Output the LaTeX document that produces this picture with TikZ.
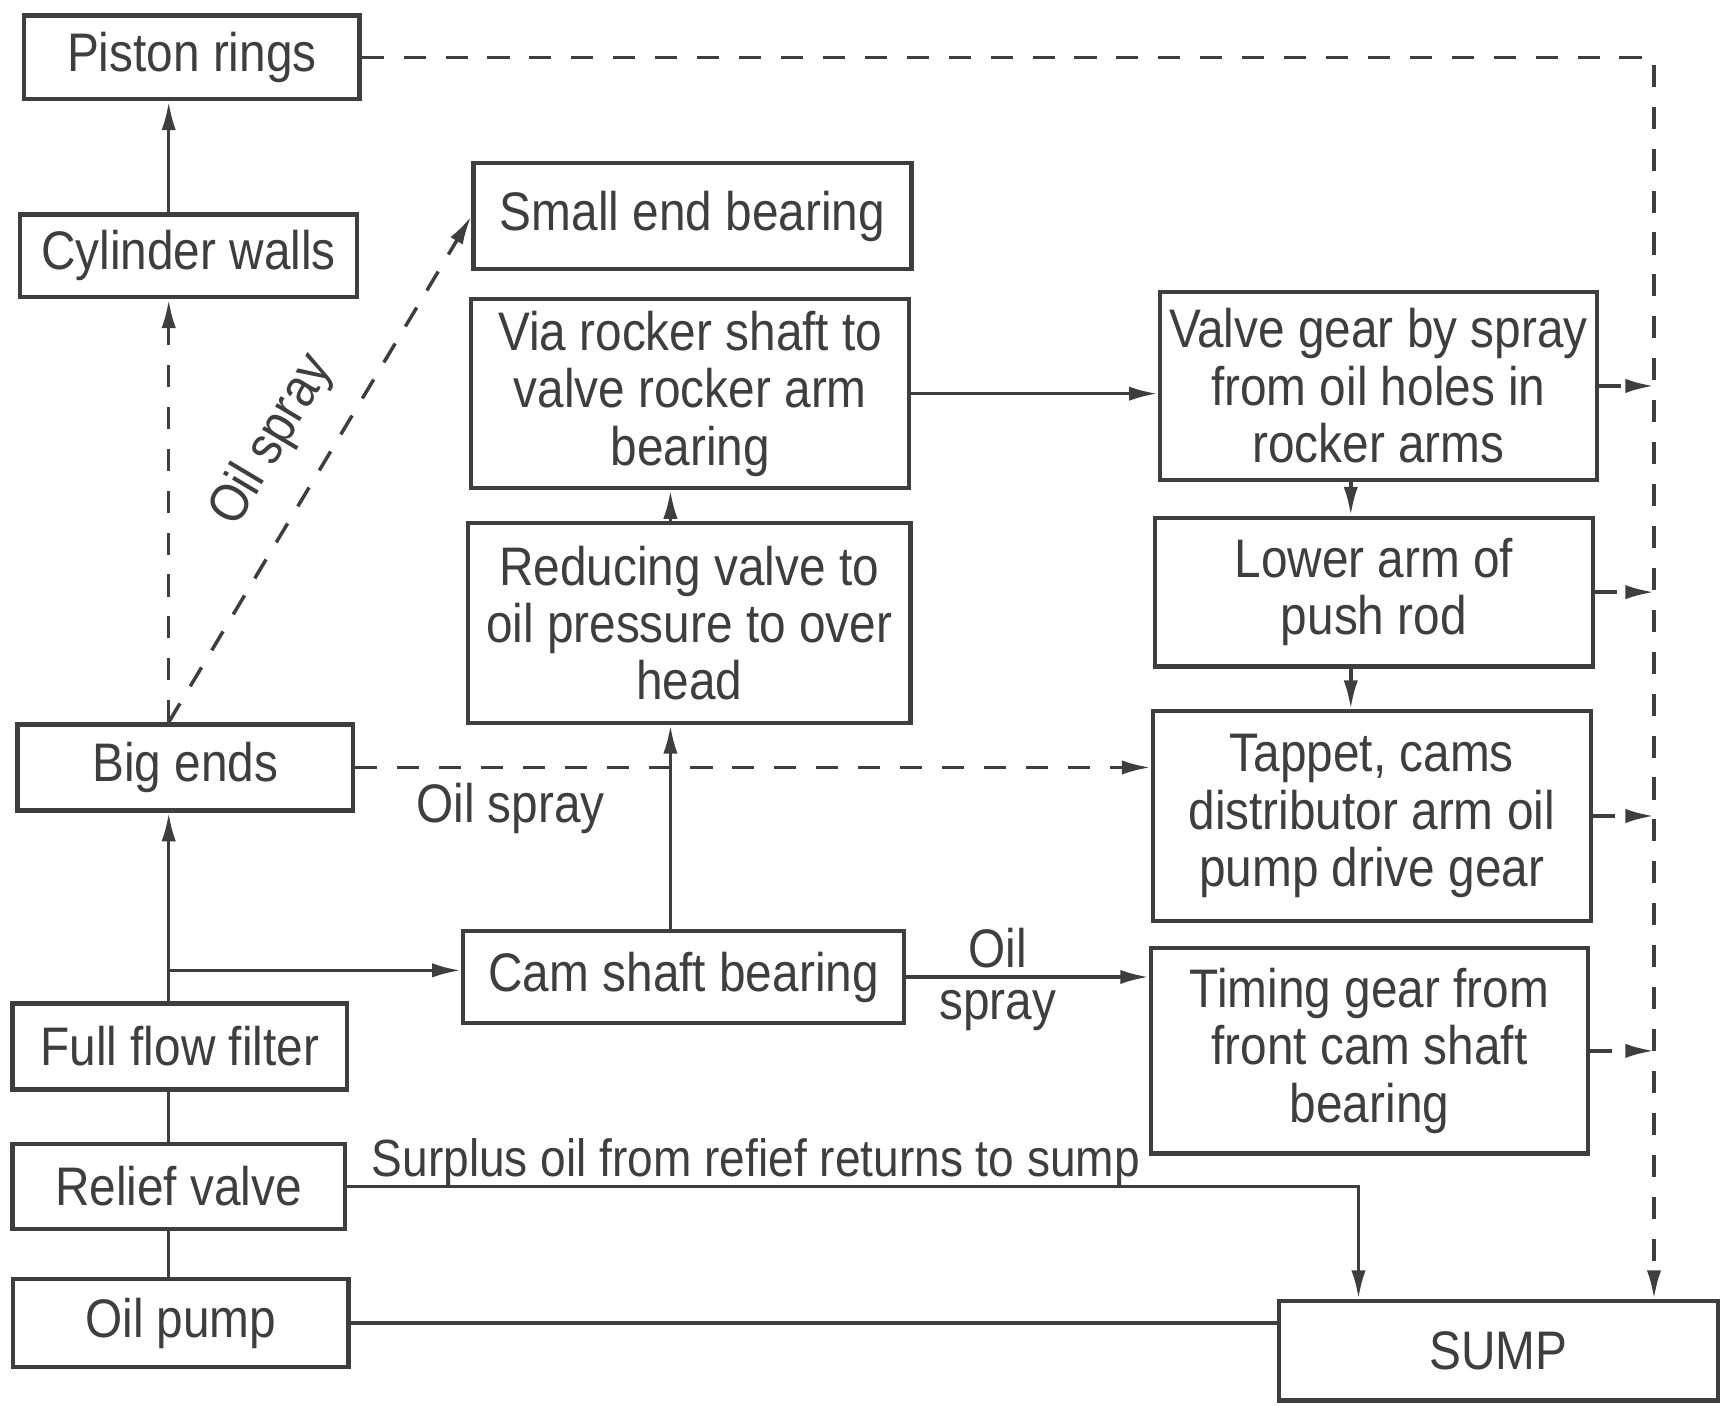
\documentclass[tikz,border=0pt]{standalone}
\usepackage{fontspec}
\setmainfont{Liberation Sans}[FakeStretch=0.88]
\usetikzlibrary{arrows.meta}
\definecolor{ink}{RGB}{62,62,62}
\begin{document}
\begin{tikzpicture}[x=0.01cm, y=-0.01cm,
  font=\fontsize{14}{14.8}\selectfont,
  box/.style={draw=ink, line width=1.1pt, align=center, inner sep=0pt, text=ink},
  ln/.style={draw=ink, line width=0.9pt},
  arr/.style={ln, -{Latex[length=2.6mm,width=1.3mm]}},
  dsh/.style={arr, dash pattern=on 2mm off 1.8mm},
  lab/.style={text=ink, inner sep=1pt}]
\useasboundingbox (0,0) rectangle (1568,1275);
% boxes
\node[box, minimum width=3.04cm, minimum height=0.76cm] (pr)  at (174,52)   {Piston rings};
\node[box, minimum width=3.06cm, minimum height=0.75cm] (cyl) at (171,232)  {Cylinder walls};
\node[box, minimum width=3.97cm, minimum height=0.96cm] (sm)  at (628,196)  {Small end bearing};
\node[box, minimum width=3.97cm, minimum height=1.71cm] (via) at (626,357)  {Via rocker shaft to\\valve rocker arm\\bearing};
\node[box, minimum width=4.01cm, minimum height=1.81cm] (red) at (625,565)  {Reducing valve to\\oil pressure to over\\head};
\node[box, minimum width=3.04cm, minimum height=0.78cm] (be)  at (168,696)  {Big ends};
\node[box, minimum width=4.00cm, minimum height=0.83cm] (cam) at (620,886)  {Cam shaft bearing};
\node[box, minimum width=3.03cm, minimum height=0.78cm] (fff) at (163,949)  {Full flow filter};
\node[box, minimum width=3.01cm, minimum height=0.77cm] (rel) at (162,1076) {Relief valve};
\node[box, minimum width=3.04cm, minimum height=0.80cm] (op)  at (164,1200) {Oil pump};
\node[box, minimum width=3.96cm, minimum height=1.70cm] (vg)  at (1250,350) {Valve gear by spray\\from oil holes in\\rocker arms};
\node[box, minimum width=3.97cm, minimum height=1.35cm] (la)  at (1246,537) {Lower arm of\\push rod};
\node[box, minimum width=3.97cm, minimum height=1.90cm] (tap) at (1244,740) {Tappet, cams\\distributor arm oil\\pump drive gear};
\node[box, minimum width=3.96cm, minimum height=1.86cm] (tim) at (1242,953) {Timing gear from\\front cam shaft\\bearing};
\node[box, minimum width=3.98cm, minimum height=0.90cm] (sump) at (1359,1225) {SUMP};
% guide coordinates
\coordinate (lx) at (153,0);
\coordinate (mx) at (608,0);
\coordinate (rx) at (1225,0);
\coordinate (sx) at (1232,0);
\coordinate (dx) at (1500,0);
\coordinate (jn) at (153,880);
% left column
\draw[arr] (lx |- cyl.north) -- (lx |- pr.south);
\draw[dsh] (lx |- be.north) -- (lx |- cyl.south);
\draw[dsh] (lx |- be.north) -- node[lab, sloped, above=0.22cm, pos=0.5] (lspr) {Oil spray} (sm.west);
\draw[arr] (lx |- fff.north) -- (lx |- be.south);
\draw[arr] (jn) -- (jn -| cam.west);
\draw[ln] (lx |- fff.south) -- (lx |- rel.north);
\draw[ln] (lx |- rel.south) -- (lx |- op.north);
% middle column
\draw[arr] (mx |- cam.north) -- (mx |- red.south);
\draw[arr] (mx |- red.north) -- (mx |- via.south);
\draw[arr] (via.east) -- (via.east -| vg.west);
\draw[dsh] (be.east) -- (be.east -| tap.west);
\node[lab] (bspr) at (463,733) {Oil spray};
\draw[arr] (cam.east) -- (cam.east -| tim.west);
\node[lab] (oil1) at (905,860) {Oil};
\node[lab] (oil2) at (905,916) {spray};
% right column
\draw[arr] (rx |- vg.south) -- (rx |- la.north);
\draw[arr] (rx |- la.south) -- (rx |- tap.north);
% returns to sump
\draw[dsh] (pr.east) -- (pr.east -| dx) -- (dx |- sump.north);
\draw[dsh] (vg.east) -- (vg.east -| dx);
\draw[dsh] (la.east) -- (la.east -| dx);
\draw[dsh] (tap.east) -- (tap.east -| dx);
\draw[dsh] (tim.east) -- (tim.east -| dx);
\draw[arr] (rel.east) -- (rel.east -| sx) -- (sx |- sump.north);
\node[lab, font=\fontsize{13.5}{14.8}\selectfont, anchor=west] (surp) at (333,1055) {Surplus oil from refief returns to sump};
\draw[ln] (op.east) -- (op.east -| sump.west);
\end{tikzpicture}
\end{document}
